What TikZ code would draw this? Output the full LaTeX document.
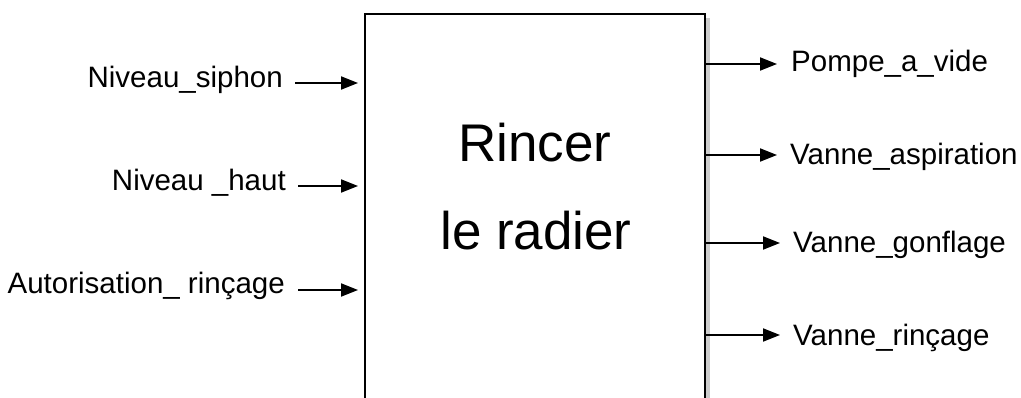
\documentclass[tikz,border=0pt]{standalone}
\usepackage{fontspec}
\setmainfont{Liberation Sans}
\usetikzlibrary{arrows.meta}
\begin{document}
\begin{tikzpicture}[x=1pt,y=-1pt,
  lbl/.style={inner sep=0pt, font=\fontsize{29.5}{35}\selectfont},
  big/.style={inner sep=0pt, font=\fontsize{53}{60}\selectfont},
  sig/.style={line width=2pt, -{Triangle[length=17pt,width=13pt]}},
  blk/.style={draw, line width=2.4pt, minimum width=340pt, minimum height=420pt, inner sep=0pt, anchor=north west}]
\useasboundingbox (0,0) rectangle (1021,398);
\fill[gray!40] (705,18) rectangle (710,440);
\node[blk] (box) at (364,13) {};
\node[big, anchor=base] (t1) at (535,162) {Rincer};
\node[big, anchor=base] (t2) at (536,250) {le radier};
% inputs
\node[lbl, anchor=base east] (i1) at (283,88) {Niveau\_siphon};
\node[lbl, anchor=base east] (i2) at (286,191) {Niveau \_haut};
\node[lbl, anchor=base east] (i3) at (285,294) {Autorisation\_ rinçage};
\coordinate (a1) at (295,83);
\coordinate (a2) at (298,186);
\coordinate (a3) at (298,290);
\draw[sig] (a1) -- ([xshift=-6pt]box.west |- a1);
\draw[sig] (a2) -- ([xshift=-6pt]box.west |- a2);
\draw[sig] (a3) -- ([xshift=-6pt]box.west |- a3);
% outputs
\node[lbl, anchor=base west] (o1) at (791,72) {Pompe\_a\_vide};
\node[lbl, anchor=base west] (o2) at (790,165) {Vanne\_aspiration};
\node[lbl, anchor=base west] (o3) at (793,253) {Vanne\_gonflage};
\node[lbl, anchor=base west] (o4) at (793,345) {Vanne\_rinçage};
\coordinate (b1) at (777,64);
\coordinate (b2) at (777,155);
\coordinate (b3) at (780,243);
\coordinate (b4) at (780,335);
\draw[sig] (box.east |- b1) -- (b1);
\draw[sig] (box.east |- b2) -- (b2);
\draw[sig] (box.east |- b3) -- (b3);
\draw[sig] (box.east |- b4) -- (b4);
\end{tikzpicture}
\end{document}
